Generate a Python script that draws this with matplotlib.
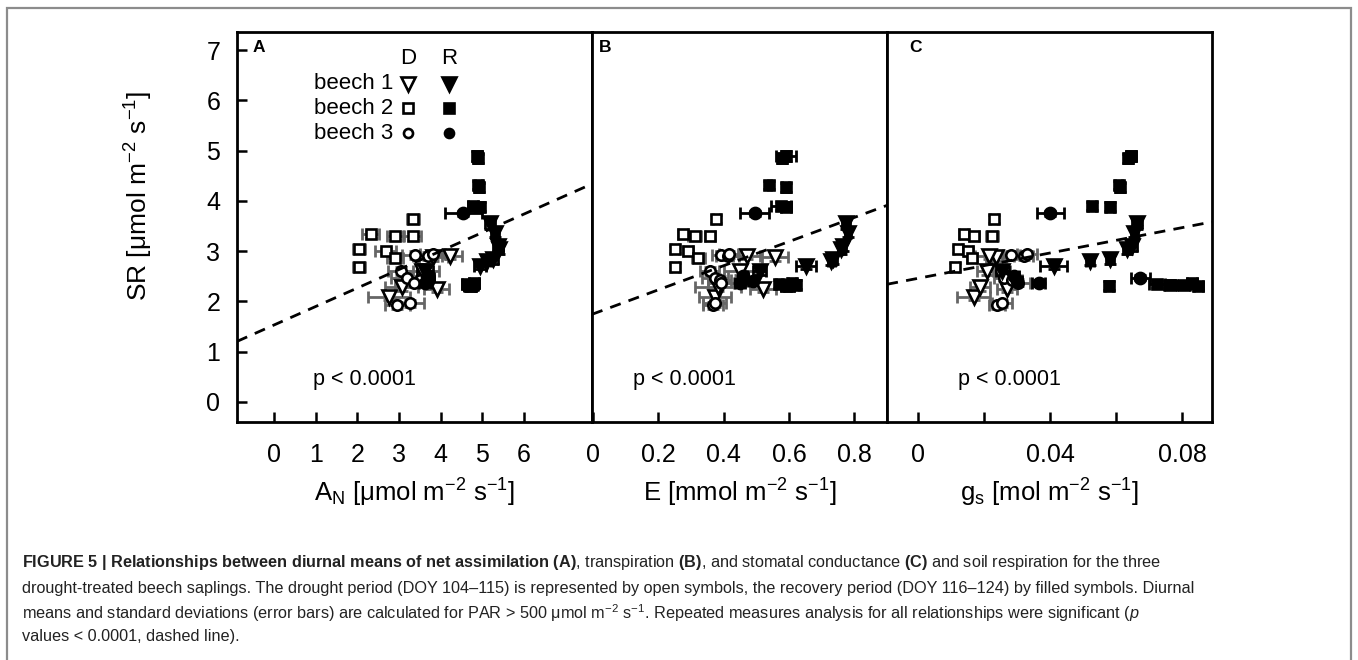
import matplotlib
matplotlib.use('Agg')
import matplotlib.pyplot as plt
from matplotlib.patches import Rectangle

plt.rcParams['font.family'] = ['Liberation Sans', 'DejaVu Sans']
plt.rcParams['mathtext.fontset'] = 'custom'
plt.rcParams['mathtext.rm'] = 'Liberation Sans'
plt.rcParams['mathtext.it'] = 'Liberation Sans:italic'
plt.rcParams['mathtext.bf'] = 'Liberation Sans:bold'
plt.rcParams['mathtext.default'] = 'regular'

# ---- data ----
# beech 1, drought (open triangles)
sr1_d = [2.08, 2.28, 2.24, 2.88, 2.90, 2.60]
sr1_d_err = [0.06, 0.08, 0.06, 0.07, 0.06, 0.08]
an1_d = [2.76, 3.06, 3.90, 3.82, 4.22, 3.55]
an1_d_err = [0.50, 0.40, 0.30, 0.35, 0.30, 0.40]
e1_d = [0.373, 0.383, 0.520, 0.556, 0.470, 0.450]
e1_d_err = [0.050, 0.070, 0.040, 0.040, 0.040, 0.050]
gs1_d = [0.0168, 0.0188, 0.0269, 0.0235, 0.0213, 0.0208]
gs1_d_err = [0.005, 0.003, 0.003, 0.003, 0.004, 0.003]

# beech 2, drought (open squares)
sr2_d = [3.64, 3.34, 3.30, 3.30, 3.04, 3.00, 2.86, 2.68]
sr2_d_err = [0.08, 0.07, 0.07, 0.08, 0.07, 0.06, 0.07, 0.08]
an2_d = [3.33, 2.32, 2.90, 3.33, 2.04, 2.68, 2.90, 2.04]
an2_d_err = [0.15, 0.20, 0.20, 0.20, 0.15, 0.25, 0.20, 0.15]
e2_d = [0.378, 0.276, 0.311, 0.357, 0.250, 0.291, 0.322, 0.250]
e2_d_err = [0.012, 0.015, 0.020, 0.015, 0.012, 0.015, 0.020, 0.012]
gs2_d = [0.0228, 0.0137, 0.0168, 0.0223, 0.0119, 0.0152, 0.0163, 0.0112]
gs2_d_err = [0.0012, 0.0015, 0.0015, 0.0018, 0.0012, 0.0015, 0.0015, 0.0012]

# beech 3, drought (open circles)
sr3_d = [1.92, 1.96, 2.60, 2.47, 2.42, 2.37, 2.92, 2.90, 2.94]
sr3_d_err = [0.07, 0.07, 0.08, 0.07, 0.08, 0.07, 0.08, 0.08, 0.07]
an3_d = [2.96, 3.26, 3.04, 3.20, 3.50, 3.35, 3.38, 3.69, 3.81]
an3_d_err = [0.30, 0.35, 0.30, 0.40, 0.35, 0.45, 0.30, 0.35, 0.30]
e3_d = [0.367, 0.372, 0.357, 0.373, 0.388, 0.393, 0.393, 0.413, 0.415]
e3_d_err = [0.030, 0.035, 0.030, 0.040, 0.035, 0.040, 0.030, 0.035, 0.030]
gs3_d = [0.0238, 0.0254, 0.0252, 0.0259, 0.0284, 0.0302, 0.0282, 0.0319, 0.0330]
gs3_d_err = [0.0025, 0.0030, 0.0025, 0.0030, 0.0030, 0.0035, 0.0025, 0.0030, 0.0030]

# beech 1, recovery (filled triangles)
sr1_r = [3.55, 3.37, 3.11, 3.04, 2.84, 2.81, 2.71, 2.60]
sr1_r_err = [0.10, 0.09, 0.10, 0.09, 0.09, 0.08, 0.07, 0.08]
an1_r = [5.18, 5.30, 5.37, 5.40, 5.25, 5.10, 4.94, 3.62]
an1_r_err = [0.12, 0.10, 0.12, 0.10, 0.12, 0.10, 0.15, 0.20]
e1_r = [0.775, 0.780, 0.764, 0.760, 0.734, 0.730, 0.652, 0.510]
e1_r_err = [0.012, 0.010, 0.012, 0.010, 0.012, 0.010, 0.030, 0.020]
gs1_r = [0.0663, 0.0655, 0.0648, 0.0632, 0.0582, 0.0521, 0.0410, 0.0255]
gs1_r_err = [0.0015, 0.0012, 0.0015, 0.0012, 0.0012, 0.0012, 0.0040, 0.0020]

# beech 2, recovery (filled squares)
sr2_r = [4.90, 4.85, 4.32, 4.27, 3.90, 3.88, 2.31, 2.34, 2.33, 2.32, 2.36, 2.30]
sr2_r_err = [0.10, 0.09, 0.08, 0.09, 0.08, 0.09, 0.09, 0.08, 0.09, 0.08, 0.09, 0.08]
an2_r = [4.88, 4.90, 4.90, 4.92, 4.78, 4.95, 4.70, 4.62, 4.75, 4.68, 4.80, 4.72]
an2_r_err = [0.10, 0.08, 0.08, 0.10, 0.12, 0.10, 0.15, 0.12, 0.15, 0.12, 0.12, 0.10]
e2_r = [0.590, 0.580, 0.540, 0.590, 0.575, 0.590, 0.600, 0.570, 0.620, 0.600, 0.610, 0.590]
e2_r_err = [0.030, 0.010, 0.005, 0.010, 0.030, 0.015, 0.015, 0.010, 0.012, 0.010, 0.012, 0.015]
gs2_r = [0.0645, 0.0635, 0.0607, 0.0612, 0.0526, 0.0582, 0.0577, 0.0723, 0.0764, 0.0804, 0.0829, 0.0849]
gs2_r_err = [0.0015, 0.0012, 0.0010, 0.0012, 0.0012, 0.0012, 0.0012, 0.0025, 0.0020, 0.0020, 0.0015, 0.0015]

# beech 3, recovery (filled circles)
sr3_r = [3.75, 2.47, 2.37, 2.51, 2.41]
sr3_r_err = [0.05, 0.05, 0.06, 0.07, 0.06]
an3_r = [4.54, 3.69, 3.62, 3.66, 3.70]
an3_r_err = [0.44, 0.15, 0.15, 0.12, 0.15]
e3_r = [0.495, 0.460, 0.450, 0.459, 0.490]
e3_r_err = [0.045, 0.015, 0.015, 0.012, 0.015]
gs3_r = [0.0400, 0.0673, 0.0365, 0.0290, 0.0300]
gs3_r_err = [0.0040, 0.0030, 0.0020, 0.0015, 0.0015]

# repeated measures fits (dashed lines): intercept, slope
fit_an = (1.53, 0.368)
fit_e = (1.75, 2.40)
fit_gs = (2.46, 12.6)

panel_letters = ['A', 'B', 'C']
p_text = 'p < 0.0001'
xlabels = [r'A$_{\mathrm{N}}$ [μmol m$^{-2}$ s$^{-1}$]',
           r'E [mmol m$^{-2}$ s$^{-1}$]',
           r'g$_{\mathrm{s}}$ [mol m$^{-2}$ s$^{-1}$]']
ylabel = r'SR [μmol m$^{-2}$ s$^{-1}$]'
an_ticks = [0, 1, 2, 3, 4, 5, 6]
e_ticks = [0, 0.2, 0.4, 0.6, 0.8]
e_ticklabels = ['0', '0.2', '0.4', '0.6', '0.8']
gs_ticks = [0, 0.02, 0.04, 0.06, 0.08]
gs_ticklabels = ['0', '', '0.04', '', '0.08']
sr_ticks = [0, 1, 2, 3, 4, 5, 6, 7]

series = [
    # marker, size, filled, sr, sr_err, [(x, xerr) for A, B, C]
    ('v', 9.5, False, sr1_d, sr1_d_err, [(an1_d, an1_d_err), (e1_d, e1_d_err), (gs1_d, gs1_d_err)]),
    ('s', 7, False, sr2_d, sr2_d_err, [(an2_d, an2_d_err), (e2_d, e2_d_err), (gs2_d, gs2_d_err)]),
    ('o', 7.5, False, sr3_d, sr3_d_err, [(an3_d, an3_d_err), (e3_d, e3_d_err), (gs3_d, gs3_d_err)]),
    ('v', 9.5, True, sr1_r, sr1_r_err, [(an1_r, an1_r_err), (e1_r, e1_r_err), (gs1_r, gs1_r_err)]),
    ('s', 7.5, True, sr2_r, sr2_r_err, [(an2_r, an2_r_err), (e2_r, e2_r_err), (gs2_r, gs2_r_err)]),
    ('o', 8, True, sr3_r, sr3_r_err, [(an3_r, an3_r_err), (e3_r, e3_r_err), (gs3_r, gs3_r_err)]),
]

W, H = 1358, 660
fig = plt.figure(figsize=(W / 100, H / 100), dpi=100)

# outer grey frame of the figure box
fig.add_artist(Rectangle((7 / W, -0.05), (1351 - 7) / W, 1.05 - 8 / H,
                         transform=fig.transFigure, fill=False,
                         ec='#8c8c8c', lw=1.6))

# axes boxes (pixels: left, right)
boxes = [(237, 592), (592, 887), (887, 1212)]
top_px, bot_px = 32, 422
xlims = [(-0.887, 7.63), (-0.003, 0.9), (-0.0095, 0.089)]
fits = [fit_an, fit_e, fit_gs]
letter_x = [0.045, 0.025, 0.068]
p_x = [0.214, 0.139, 0.218]

axes = []
for i, (l, r) in enumerate(boxes):
    ax = fig.add_axes([l / W, (H - bot_px) / H, (r - l) / W, (bot_px - top_px) / H])
    axes.append(ax)
    ax.set_xlim(*xlims[i])
    ax.set_ylim(-0.4, 7.36)
    for sp in ax.spines.values():
        sp.set_linewidth(2)
    ax.tick_params(direction='in', length=7, width=1.8, labelsize=18, pad=15)

    for marker, ms, filled, sr, sr_err, xs in series:
        x, xerr = xs[i]
        ecol = 'black' if filled else '#666666'
        ax.errorbar(x, sr, xerr=xerr, yerr=sr_err, fmt='none', ecolor=ecol,
                    elinewidth=2, capsize=4.5, capthick=2, zorder=2)
        ax.plot(x, sr, linestyle='none', marker=marker, ms=ms,
                mfc='black' if filled else 'white', mec='black', mew=1.9,
                zorder=4 if filled else 3)

    b, m = fits[i]
    ax.axline((0, b), slope=m, color='black', lw=2, ls=(0, (4, 3)), zorder=5)

    ax.text(letter_x[i], 0.96, panel_letters[i], transform=ax.transAxes,
            fontsize=12.5, fontweight='bold', ha='left', va='center')
    ax.text(p_x[i], 0.11, p_text, transform=ax.transAxes,
            fontsize=15.5, ha='left', va='center')
    ax.set_xlabel(xlabels[i], fontsize=18.5, labelpad=7)

axes[0].set_xticks(an_ticks)
axes[1].set_xticks(e_ticks)
axes[1].set_xticklabels(e_ticklabels)
axes[2].set_xticks(gs_ticks)
axes[2].set_xticklabels(gs_ticklabels)
axes[0].set_yticks(sr_ticks)
axes[0].set_ylabel(ylabel, fontsize=19)
axes[0].yaxis.set_label_coords(-0.231, 0.58)
axes[0].tick_params(axis='y', pad=12)
for ax in axes[1:]:
    ax.set_yticks([])

# legend drawn inside panel A
ax = axes[0]
ax.text(0.482, 0.933, 'D', transform=ax.transAxes, fontsize=16, ha='center', va='center')
ax.text(0.597, 0.933, 'R', transform=ax.transAxes, fontsize=16, ha='center', va='center')
leg_rows = [('beech 1', 'v', 9.5, 0.867), ('beech 2', 's', 6.5, 0.805), ('beech 3', 'o', 6.5, 0.741)]
for name, mk, ms, yy in leg_rows:
    ax.text(0.44, yy, name, transform=ax.transAxes, fontsize=16, ha='right', va='center')
    ax.plot([0.482], [yy], transform=ax.transAxes, marker=mk, ms=ms, mfc='white',
            mec='black', mew=1.9, ls='none', clip_on=False)
    ax.plot([0.597], [yy], transform=ax.transAxes, marker=mk, ms=ms, mfc='black',
            mec='black', mew=1.9, ls='none', clip_on=False)

# caption
cap_lines = [
    r'$\mathbf{FIGURE\ 5\ |\ Relationships\ between\ diurnal\ means\ of\ net\ assimilation\ (A)}$'
    r', transpiration $\mathbf{(B)}$, and stomatal conductance $\mathbf{(C)}$'
    r' and soil respiration for the three',
    'drought-treated beech saplings. The drought period (DOY 104–115) is represented by open '
    'symbols, the recovery period (DOY 116–124) by filled symbols. Diurnal',
    r'means and standard deviations (error bars) are calculated for PAR > 500 μmol m$^{-2}$ '
    r's$^{-1}$. Repeated measures analysis for all relationships were significant ($\mathit{p}$',
    'values < 0.0001, dashed line).',
]
cap_y = [563, 588, 613, 637]
for txt, yy in zip(cap_lines, cap_y):
    fig.text(22 / W, 1 - yy / H, txt, fontsize=11.7, color='#222222',
             ha='left', va='center')

fig.savefig('out.png', dpi=100)
